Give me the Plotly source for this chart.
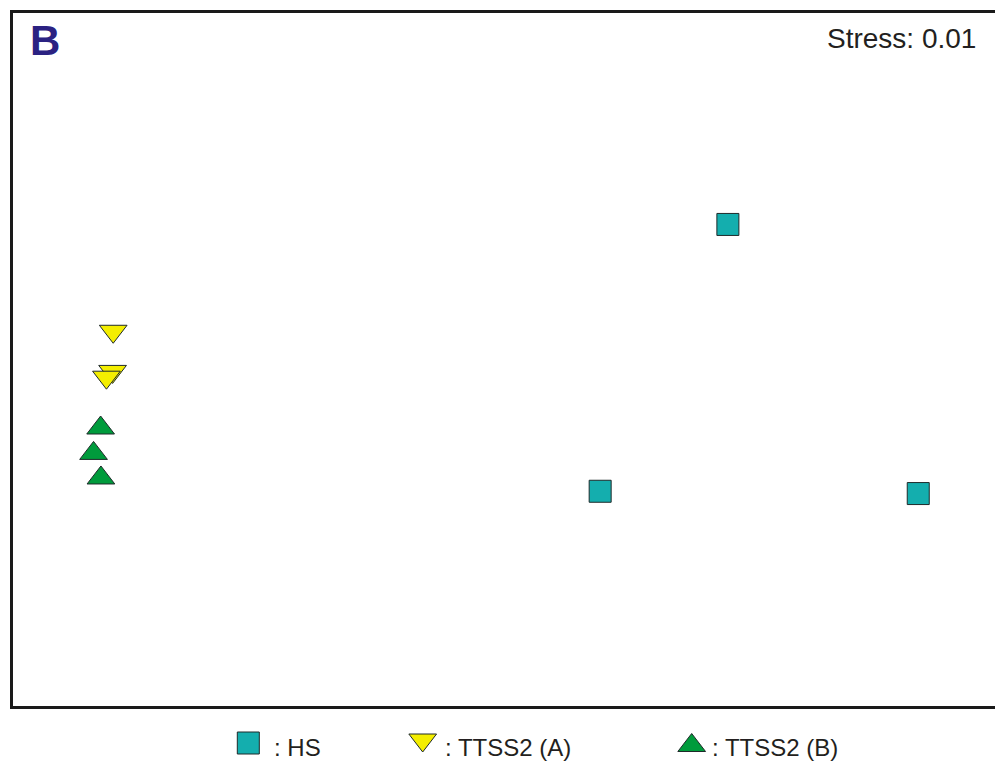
import plotly.graph_objects as go

W, H = 995, 763

# NMDS coordinates (estimated)
hs_x = [0.730, 0.314, 1.350]
hs_y = [0.466, -0.458, -0.466]
a_x = [-1.272, -1.274, -1.294]
a_y = [0.096, -0.043, -0.063]
b_x = [-1.313, -1.336, -1.312]
b_y = [-0.239, -0.327, -0.412]

group_names = [": HS", ": TTSS2 (A)", ": TTSS2 (B)"]
group_colors = ["#14AEAE", "#F4EE00", "#009B3C"]
group_symbols = ["square", "triangle-down", "triangle-up"]
group_sizes = [22, 24, 24]
stress_label = "Stress: 0.01"
panel_label = "B"

EDGE = "#1f2a2a"
FRAME = "#1a1a1a"

fig = go.Figure()

for xs, ys, name, col, sym, sz in zip([hs_x, a_x, b_x], [hs_y, a_y, b_y],
                                       group_names, group_colors, group_symbols,
                                       group_sizes):
    fig.add_trace(go.Scatter(
        x=xs, y=ys, mode="markers", name=name, showlegend=False,
        marker=dict(symbol=sym, size=sz, color=col,
                    line=dict(color=EDGE, width=1)),
        xaxis="x", yaxis="y"))

# custom legend (figure-pixel overlay axis)
leg_mx = [248.3, 422.7, 691.7]
leg_my = [743.0, 740.0, 745.5]
leg_tx = [272, 443, 710]
for i in range(3):
    fig.add_trace(go.Scatter(
        x=[leg_mx[i]], y=[leg_my[i]], mode="markers", showlegend=False,
        hoverinfo="skip",
        marker=dict(symbol=group_symbols[i], size=group_sizes[i],
                    color=group_colors[i],
                    line=dict(color=EDGE, width=1)),
        xaxis="x2", yaxis="y2"))
    fig.add_annotation(x=leg_tx[i], y=747, xref="x2", yref="y2",
                       text=group_names[i], showarrow=False,
                       xanchor="left", yanchor="middle",
                       font=dict(family="Liberation Sans, Arial", size=24,
                                 color="#231f20"))

fig.add_annotation(x=28, y=40, xref="x2", yref="y2", text="<b>" + panel_label + "</b>",
                   showarrow=False, xanchor="left", yanchor="middle",
                   font=dict(family="Liberation Sans, Arial", size=42,
                             color="#2B2282"))
fig.add_annotation(x=978, y=38, xref="x2", yref="y2", text=stress_label,
                   showarrow=False, xanchor="right", yanchor="middle",
                   font=dict(family="Liberation Sans, Arial", size=28,
                             color="#231f20"))

fig.update_layout(
    width=W, height=H,
    margin=dict(l=0, r=0, t=0, b=0),
    paper_bgcolor="white", plot_bgcolor="rgba(0,0,0,0)",
    xaxis=dict(domain=[12.5 / W, 1.0], range=[-1.6, 1.6],
               showgrid=False, zeroline=False, showticklabels=False,
               ticks="", showline=True, mirror=True,
               linecolor=FRAME, linewidth=3),
    yaxis=dict(domain=[1 - 705.5 / H, 1 - 12.5 / H], range=[-1.2, 1.2],
               showgrid=False, zeroline=False, showticklabels=False,
               ticks="", showline=True, mirror=False,
               linecolor=FRAME, linewidth=3),
    xaxis2=dict(domain=[0, 1], range=[0, W], visible=False, anchor="y2",
                fixedrange=True),
    yaxis2=dict(domain=[0, 1], range=[H, 0], visible=False, anchor="x2",
                fixedrange=True),
)

fig.write_html("out.html")
